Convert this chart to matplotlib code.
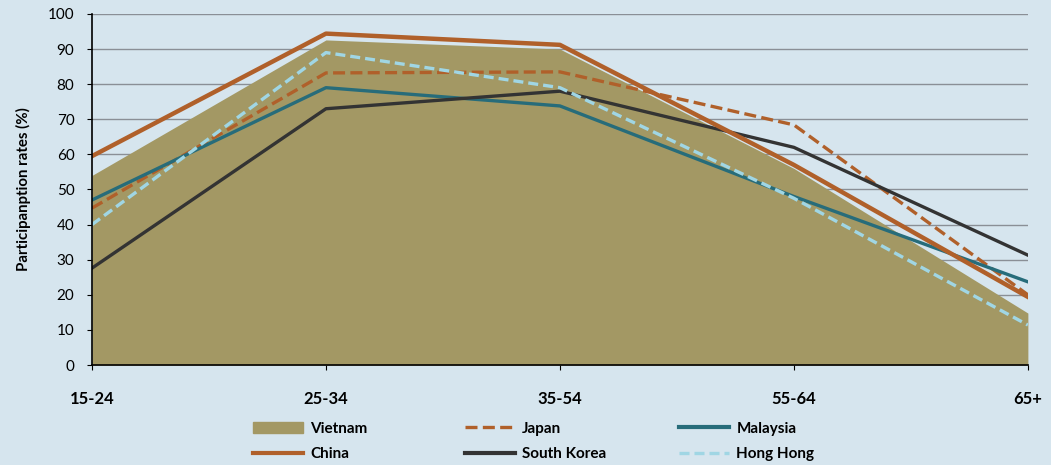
import numpy as np
import matplotlib.pyplot as plt
from matplotlib.patches import Patch
from matplotlib.lines import Line2D

age_groups = ["15-24", "25-34", "35-54", "55-64", "65+"]
vietnam = [54, 92.6, 90, 56, 14.8]
china = [59.5, 94.4, 91.2, 57, 19.4]
japan = [44.7, 83.2, 83.5, 68.4, 20]
malaysia = [47, 79, 73.8, 48, 23.7]
south_korea = [27.6, 73, 78, 62, 31.3]
hong_kong = [40, 89, 79, 47.5, 11.4]

bg = "#D6E5EE"
c_vn = "#A39864"
c_cn = "#B0602A"
c_my = "#276C7A"
c_kr = "#333333"
c_hk = "#A0D6E4"
dash_jp = (0, (3.6, 1.6))
dash_hk = (0, (3.0, 1.5))

plt.rcParams["font.family"] = ["Lato", "DejaVu Sans"]

fig = plt.figure(figsize=(10.51, 4.65), dpi=100, facecolor=bg)
ax = fig.add_axes([0.0875, 0.215, 0.8905, 0.755])
ax.set_facecolor(bg)

x = np.arange(len(age_groups))
ax.fill_between(x, 0, vietnam, color=c_vn, lw=0, zorder=2)
ax.plot(x, china, color=c_cn, lw=3.2, zorder=5)
ax.plot(x, japan, color=c_cn, lw=2.4, ls=dash_jp, zorder=4)
ax.plot(x, malaysia, color=c_my, lw=2.4, zorder=4)
ax.plot(x, south_korea, color=c_kr, lw=2.4, zorder=4)
ax.plot(x, hong_kong, color=c_hk, lw=2.4, ls=dash_hk, zorder=4)

ax.set_xlim(0, 4)
ax.set_ylim(0, 100)
ax.set_yticks(range(0, 101, 10))
ax.set_xticks(x)
ax.set_xticklabels(age_groups, fontweight="bold", fontsize=12)
ax.tick_params(axis="x", length=3.6, pad=15, direction="out")
ax.tick_params(axis="y", labelsize=11, length=3.6, pad=9, direction="out")
ax.grid(axis="y", color="#8A8F96", lw=1, zorder=1)
ax.set_axisbelow(True)
for s in ["top", "right"]:
    ax.spines[s].set_visible(False)
for s in ["left", "bottom"]:
    ax.spines[s].set_color("black")
    ax.spines[s].set_linewidth(1.2)
    ax.spines[s].set_zorder(6)
ax.set_ylabel("Participanption rates (%)", fontweight="bold", fontsize=10.8, labelpad=12)

# legend: three columns placed separately
columns = [
    ([Patch(color=c_vn, label="Vietnam"),
      Line2D([], [], color=c_cn, lw=3, label="China")], 253),
    ([Line2D([], [], color=c_cn, lw=2.4, ls=dash_jp, label="Japan"),
      Line2D([], [], color=c_kr, lw=3, label="South Korea")], 465),
    ([Line2D([], [], color=c_my, lw=3, label="Malaysia"),
      Line2D([], [], color=c_hk, lw=2.4, ls=dash_hk, label="Hong Hong")], 679),
]
for hs, px in columns:
    leg = fig.legend(handles=hs, loc="center left",
                     bbox_to_anchor=(px / 1051, 1 - 441.5 / 465),
                     frameon=False, borderpad=0, borderaxespad=0,
                     handlelength=3.3, handletextpad=0.45, labelspacing=0.75,
                     prop={"weight": "bold", "size": 11})

fig.savefig("out.png", dpi=100, facecolor=bg)
